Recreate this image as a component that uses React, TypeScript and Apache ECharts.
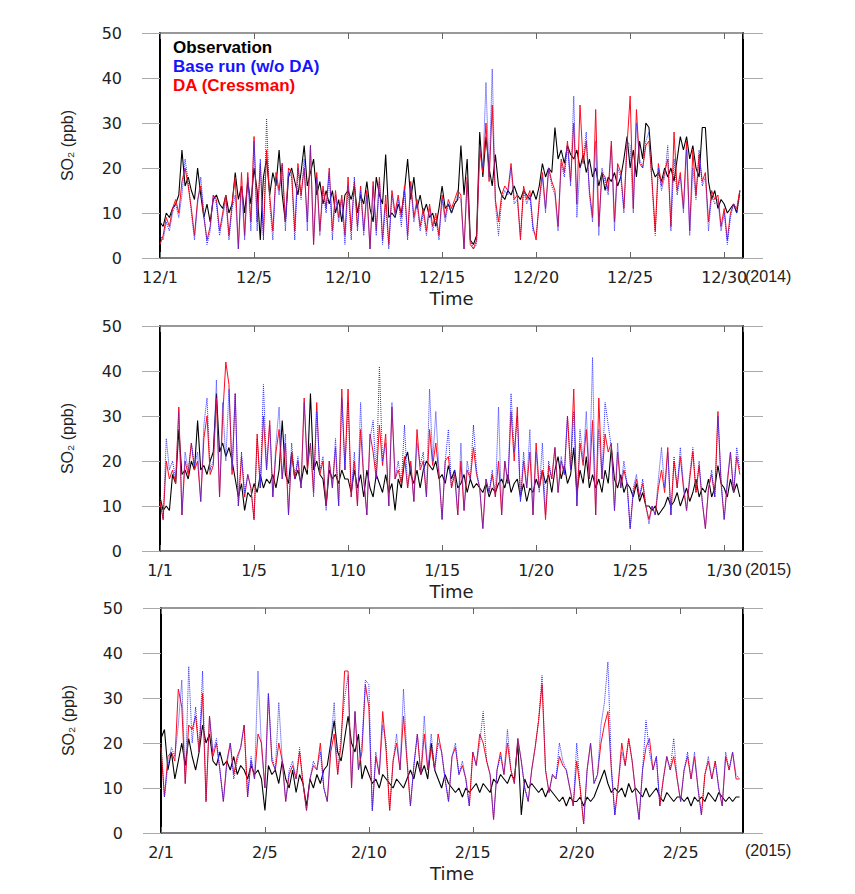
import React, { useEffect, useRef } from "react";
import * as echarts from "echarts";

// ---- hourly values sampled every 4 h (6 points per day) ----
const obsDec = [
  8,7,10,9,11,12, 14,24,16,18,15,13, 20,14,9,12,8,13, 14,12,11,14,10,12, 19,13,16,10,17,12,
  20,15,4,18,22,14, 19,16,24,14,8,18, 20,17,14,19,25,16, 19,22,14,17,12,15, 12,15,10,13,8,14,
  15,13,16,10,14,12, 17,11,8,18,14,12, 23,9,10,9,12,10, 15,22,13,18,11,14, 10,12,9,10,7,11,
  16,11,12,10,12,13, 25,14,22,4,3,5, 28,18,27,20,16,23, 16,14,13,15,14,16, 14,13,15,14,13,15,
  13,16,21,18,20,19, 29,22,24,21,25,23, 22,24,20,23,19,22, 18,20,16,19,15,18, 17,19,16,18,22,27,
  20,24,18,26,22,30, 29,20,18,19,17,20, 18,20,17,22,27,24, 27,22,25,20,18,29, 29,17,13,15,11,13,
  12,10,11,12,10,15,
];
const baseDec = [
  5,4,8,6,10,12, 9,14,22,17,10,4, 12,18,10,3,6,14, 12,5,9,13,4,11, 14,2,16,4,18,6,
  26,6,22,4,31,12, 4,18,14,21,6,19, 18,4,20,13,22,6, 25,3,18,5,15,10, 19,4,14,8,13,3,
  16,4,18,6,15,5, 14,2,16,5,17,3, 12,2,14,9,13,7, 15,4,16,8,12,6, 10,5,11,6,9,4,
  13,8,12,10,12,14, 13,2,17,4,2,3, 25,20,39,18,42,12, 5,13,15,14,20,12, 13,5,15,12,14,6,
  5,12,18,10,20,16, 14,6,21,18,25,16, 36,9,20,22,28,14, 8,26,5,20,17,14, 25,6,20,18,10,26,
  25,10,30,22,20,26, 28,16,5,20,15,18, 25,6,22,14,18,10, 24,5,20,13,24,16, 18,6,14,12,13,6,
  10,3,9,12,10,14,
];
const daDec = [
  3,5,9,7,11,13, 10,17,20,16,11,5, 13,16,9,4,7,14, 13,6,10,14,5,12, 18,2,19,5,19,8,
  27,8,21,5,24,14, 6,19,15,21,8,20, 19,6,21,14,20,8, 25,3,19,6,16,11, 20,6,15,9,14,5,
  18,6,17,7,16,6, 15,2,17,6,18,4, 14,3,15,10,14,9, 16,5,17,9,13,7, 11,6,12,7,10,5,
  14,9,13,11,13,15, 14,2,18,3,2,4, 24,19,30,17,34,13, 8,14,16,15,21,13, 14,4,16,13,15,7,
  4,13,19,11,20,17, 15,7,22,19,26,17, 30,12,34,21,26,15, 9,33,7,19,18,15, 26,8,21,19,11,25,
  36,11,33,21,20,25, 26,17,6,21,16,19, 22,7,28,15,19,11, 26,6,24,14,23,17, 19,8,15,13,14,7,
  11,4,10,12,11,15,
];

const obsJan = [
  12,9,10,9,17,15, 27,17,18,16,20,18, 29,18,19,17,20,22, 35,22,24,21,23,20, 16,12,15,9,13,12,
  15,13,17,14,16,15, 17,14,18,29,17,15, 22,16,18,15,19,17, 35,18,20,17,16,10, 18,16,17,15,18,16,
  16,13,18,14,17,12, 18,14,12,17,15,13, 17,13,15,9,16,14, 20,22,17,15,18,14, 18,20,19,18,20,16,
  17,15,19,16,18,14, 15,17,13,16,14,15, 14,13,15,12,14,13, 15,16,14,17,13,15, 16,12,15,11,14,13,
  16,14,18,15,17,13, 18,21,16,19,15,17, 23,13,18,15,21,14, 17,14,16,13,18,15, 23,16,14,17,13,15,
  14,12,15,11,13,10, 10,9,10,8,9,10, 12,10,11,13,10,12, 14,11,13,16,12,14, 13,16,12,14,19,15,
  14,12,16,13,15,12,
];
const baseJan = [
  12,7,25,18,20,16, 31,8,22,18,24,19, 22,11,28,34,18,20, 38,12,33,20,36,18, 35,10,22,13,17,14,
  7,25,14,37,18,28, 12,24,32,16,26,8, 24,16,21,14,33,19, 24,12,31,18,21,9, 20,14,25,10,34,18,
  33,12,22,10,33,16, 8,25,29,16,41,20, 24,10,33,16,20,15, 28,14,19,11,24,19, 22,12,36,20,31,18,
  7,20,27,14,18,8, 24,9,20,16,28,18, 14,5,16,13,18,12, 32,8,20,15,35,22, 30,11,22,14,27,8,
  22,13,24,8,20,16, 23,13,21,17,30,18, 31,10,27,20,31,16, 43,8,27,16,33,28, 23,9,24,14,20,15,
  5,14,17,12,16,10, 6,10,8,16,23,14, 22,8,21,14,23,15, 9,17,23,13,20,11, 5,14,18,12,30,16,
  7,16,22,13,23,18,
];
const daJan = [
  11,7,20,16,18,15, 32,8,20,17,24,18, 20,11,25,30,17,19, 34,12,30,42,37,17, 35,10,21,12,17,14,
  7,26,14,30,18,29, 12,22,27,16,24,8, 22,16,20,14,34,18, 24,13,33,17,20,10, 20,14,23,10,36,18,
  36,12,20,10,27,16, 8,26,22,16,28,19, 26,10,32,16,18,15, 21,14,20,11,27,18, 20,12,27,19,24,17,
  7,20,21,14,17,8, 20,9,18,16,23,17, 14,5,16,13,17,12, 20,8,20,15,31,20, 32,11,20,14,22,8,
  24,14,18,7,19,16, 23,13,20,17,30,18, 36,10,24,19,27,16, 29,8,34,16,26,22, 24,9,22,14,18,15,
  5,13,16,12,15,10, 7,10,8,14,18,13, 23,8,20,14,21,14, 9,16,22,13,19,11, 5,14,17,12,31,15,
  7,15,22,13,21,17,
];

const obsFeb = [
  21,23,14,18,12,16, 20,15,21,17,14,18, 24,20,22,16,15,18, 15,16,14,17,13,15, 14,12,15,13,14,12,
  5,15,13,14,11,16, 12,10,14,9,13,11, 6,12,10,13,11,14, 15,20,25,18,16,21, 26,20,18,22,12,15,
  13,11,12,10,13,12, 11,10,12,11,10,12, 14,12,16,13,15,12, 20,14,12,10,13,11, 10,9,10,8,10,9,
  10,11,9,11,10,9, 12,11,13,12,11,13, 12,20,4,12,10,11, 10,9,10,8,10,9, 8,7,8,6,8,7,
  7,8,6,8,7,8, 10,12,14,11,9,10, 9,10,8,11,9,10, 9,8,10,8,9,10, 8,7,9,8,7,8,
  8,7,8,6,8,7, 8,7,9,8,7,9, 8,7,8,7,8,8,
];
const baseFeb = [
  20,8,15,19,17,24, 34,11,37,20,28,18, 36,7,26,18,21,14, 7,15,20,12,16,19, 24,8,17,12,36,19,
  10,31,17,14,29,16, 7,14,16,12,19,11, 5,12,16,14,18,10, 7,20,29,13,22,30, 35,10,27,14,20,34,
  33,5,18,13,24,20, 5,16,22,14,32,17, 6,15,22,13,26,14, 22,14,20,18,12,7, 17,20,13,16,12,6,
  18,15,20,27,16,13, 3,14,17,13,23,14, 11,21,16,10,7,14, 19,25,35,14,9,13, 12,20,16,14,10,6,
  20,10,2,14,20,11, 13,24,29,38,15,4, 11,18,15,21,16,9, 3,14,25,18,14,17, 6,12,17,14,21,12,
  7,14,18,12,18,10, 4,13,17,12,16,10, 6,18,14,18,13,12,
];
const daFeb = [
  19,8,17,18,16,32, 28,11,24,23,26,18, 31,7,26,17,20,14, 7,16,20,13,17,19, 24,8,16,12,22,20,
  10,31,16,14,20,16, 7,13,15,12,18,11, 5,12,15,14,20,10, 7,18,22,13,20,36, 36,10,27,14,18,33,
  28,5,17,13,27,18, 5,16,20,14,26,16, 6,15,22,13,22,14, 19,14,22,18,12,7, 17,19,13,15,12,6,
  18,15,22,20,16,13, 3,14,18,13,20,14, 11,21,16,10,7,14, 19,25,33,14,9,13, 12,17,15,14,10,6,
  16,10,2,14,20,11, 13,20,24,27,14,4, 11,20,15,21,16,9, 3,14,19,21,14,17, 6,12,17,14,17,12,
  7,14,17,12,17,10, 4,13,16,12,16,10, 6,17,14,18,12,12,
];

// ---- axis labels ----
const decTickLabels = ["12/1", "12/5", "12/10", "12/15", "12/20", "12/25", "12/30"];
const janTickLabels = ["1/1", "1/5", "1/10", "1/15", "1/20", "1/25", "1/30"];
const febTickLabels = ["2/1", "2/5", "2/10", "2/15", "2/20", "2/25"];
const panelDays = [31, 31, 28];
const yearLabels = ["(2014)", "(2015)", "(2015)"];
const seriesNames = ["Observation", "Base run (w/o DA)", "DA (Cressman)"];
const POINTS_PER_DAY = 6;

const toPairs = (arr: number[]) => arr.map((v, i) => [i / POINTS_PER_DAY, v]);

export default function App() {
  const ref = useRef<HTMLDivElement>(null);
  useEffect(() => {
    if (!ref.current) return;
    const chart = echarts.init(ref.current, null, { renderer: "svg" });
    const grids = [
      { left: 160, top: 33, width: 583, height: 225 },
      { left: 160, top: 326, width: 583, height: 225 },
      { left: 161, top: 608, width: 582, height: 225 },
    ];
    const tickSets = [decTickLabels, janTickLabels, febTickLabels];
    const dataSets = [
      [obsDec, baseDec, daDec],
      [obsJan, baseJan, daJan],
      [obsFeb, baseFeb, daFeb],
    ];
    const tickFont = { fontFamily: "DejaVu Sans", fontSize: 16, color: "#222" };
    const xAxis: any[] = [];
    const yAxis: any[] = [];
    const series: any[] = [];
    grids.forEach((_, i) => {
      const labels = tickSets[i];
      xAxis.push({
        gridIndex: i,
        type: "value",
        position: "bottom",
        min: 0,
        max: panelDays[i],
        interval: 5,
        splitLine: { show: false },
        axisLine: { show: true, onZero: false, lineStyle: { color: "#555", width: 1.5 } },
        axisTick: { show: true, inside: true, length: 6, lineStyle: { color: "#666" } },
        axisLabel: {
          ...tickFont,
          margin: 11,
          showMaxLabel: panelDays[i] % 5 === 0,
          formatter: (v: number) => (v % 5 === 0 && labels[v / 5] ? labels[v / 5] : ""),
        },
        name: "Time",
        nameLocation: "middle",
        nameGap: 31,
        nameTextStyle: { fontFamily: "DejaVu Sans", fontSize: 18, color: "#222" },
      });
      xAxis.push({
        gridIndex: i,
        type: "value",
        position: "top",
        min: 0,
        max: panelDays[i],
        interval: 5,
        splitLine: { show: false },
        axisLine: { show: true, onZero: false, lineStyle: { color: "#777", width: 1.5 } },
        axisTick: { show: true, inside: true, length: 6, lineStyle: { color: "#666" } },
        axisLabel: { show: false },
      });
      yAxis.push({
        gridIndex: i,
        type: "value",
        position: "left",
        min: 0,
        max: 50,
        interval: 10,
        splitLine: { show: false },
        axisLine: { show: true, onZero: false, lineStyle: { color: "#000", width: 2 } },
        axisTick: { show: true, length: 18, lineStyle: { color: "#aaa" } },
        axisLabel: { ...tickFont, margin: 38 },
        name: "SO₂ (ppb)",
        nameLocation: "middle",
        nameRotate: 90,
        nameGap: 85,
        nameTextStyle: { fontFamily: "Liberation Sans", fontSize: 16, color: "#222" },
      });
      yAxis.push({
        gridIndex: i,
        type: "value",
        position: "right",
        min: 0,
        max: 50,
        interval: 10,
        splitLine: { show: false },
        axisLine: { show: true, onZero: false, lineStyle: { color: "#000", width: 2 } },
        axisTick: { show: true, length: 20, lineStyle: { color: "#aaa" } },
        axisLabel: { show: false },
      });
      const [obs, base, da] = dataSets[i];
      const common = {
        type: "line",
        xAxisIndex: 2 * i,
        yAxisIndex: 2 * i,
        showSymbol: false,
        symbol: "none",
      };
      series.push({
        ...common,
        name: seriesNames[0],
        data: toPairs(obs),
        lineStyle: { color: "#000", width: 1.1 },
        itemStyle: { color: "#000" },
        z: 2,
      });
      series.push({
        ...common,
        name: seriesNames[2],
        data: toPairs(da),
        lineStyle: { color: "#ff0a1e", width: 1 },
        itemStyle: { color: "#ff0a1e" },
        z: 3,
      });
      series.push({
        ...common,
        name: seriesNames[1],
        data: toPairs(base),
        lineStyle: { color: "#2a2aff", width: 1, type: "dotted" },
        itemStyle: { color: "#2a2aff" },
        z: 4,
      });
    });

    const legendColors = ["#000", "#1414ff", "#ff0000"];
    const yearPos = [
      { x: 745, y: 277 },
      { x: 745, y: 570 },
      { x: 745, y: 851 },
    ];

    chart.setOption({
      animation: false,
      backgroundColor: "#fff",
      grid: grids,
      xAxis,
      yAxis,
      series,
      legend: {
        left: 168,
        top: 39,
        orient: "vertical",
        padding: 0,
        itemGap: 2,
        itemWidth: 0,
        itemHeight: 17,
        icon: "rect",
        selectedMode: false,
        data: seriesNames.map((n, k) => ({
          name: n,
          itemStyle: { opacity: 0 },
          textStyle: {
            color: legendColors[k],
            fontFamily: "Liberation Sans",
            fontWeight: "bold",
            fontSize: 17,
            lineHeight: 17,
          },
        })),
      },
      graphic: yearLabels.map((t, k) => ({
        type: "text",
        left: yearPos[k].x,
        top: yearPos[k].y - 9,
        style: {
          text: t,
          fontFamily: "Liberation Sans",
          fontSize: 16,
          fill: "#222",
        },
      })),
    });
    return () => chart.dispose();
  }, []);
  return (
    <div
      ref={ref}
      style={{ position: "absolute", left: 0, top: 0, width: 855, height: 894 }}
    />
  );
}
